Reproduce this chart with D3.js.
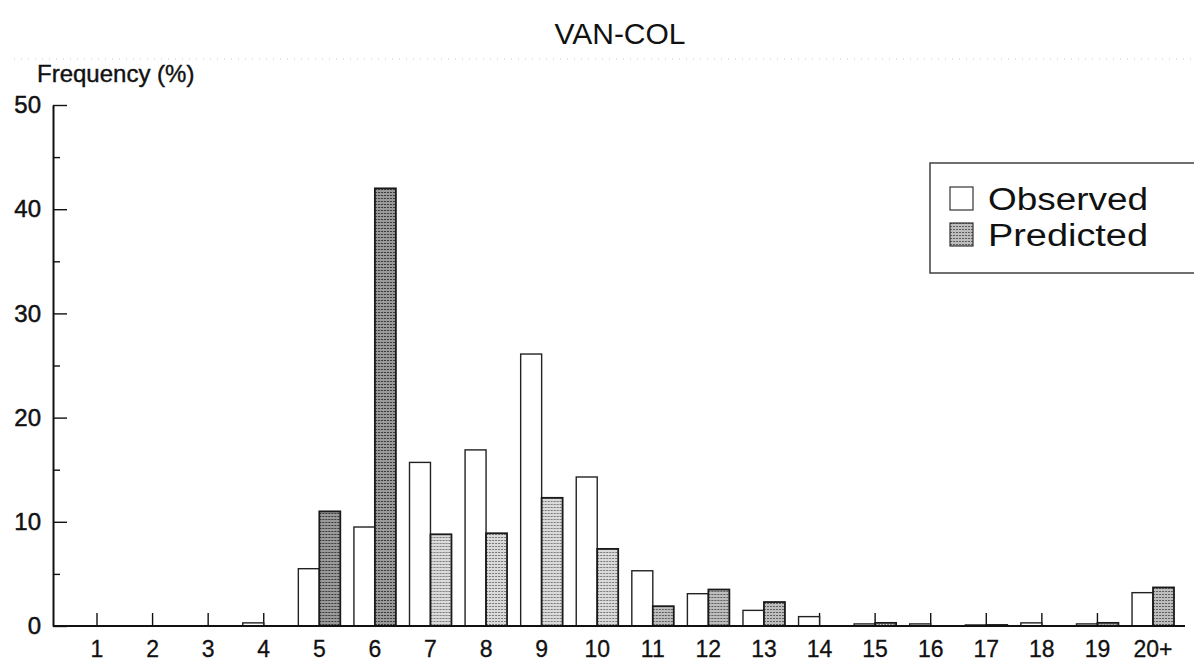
<!DOCTYPE html>
<html>
<head>
<meta charset="utf-8">
<script src="https://cdn.jsdelivr.net/npm/d3@7"></script>
<style>
  body { margin: 0; background: #fff; }
  text { font-family: "Liberation Sans", Arial, Helvetica, sans-serif; fill: #111; }
</style>
</head>
<body>
<script>
// frequency of bin (%)
var categories = ["1","2","3","4","5","6","7","8","9","10","11","12","13","14","15","16","17","18","19","20+"];
var observed  = [0, 0, 0, 0.3, 5.5, 9.5, 15.7, 16.9, 26.1, 14.3, 5.3, 3.1, 1.5, 0.9, 0.2, 0.2, 0.1, 0.3, 0.2, 3.2];
var predicted = [0, 0, 0, 0,   11.0, 42.0, 8.8, 8.9, 12.3, 7.4, 1.9, 3.5, 2.3, 0,   0.3, 0,   0.1, 0,   0.3, 3.7];
var yTicks = [0, 10, 20, 30, 40, 50];
var yMinor = [5, 15, 25, 35, 45];
var seriesNames = ["Observed", "Predicted"];

var darkBins = ["5", "6"];   // these two were printed with a darker screen
var midBins = ["11", "12", "13", "20+"];

var size = ({ width: 1194, height: 664 });
var margin = ({ top: 105, right: 14, bottom: 38, left: 53 });

var svg = d3.select("body").append("svg")
            .attr("width", size.width)
            .attr("height", size.height)
            .attr("viewBox", [0, 0, size.width, size.height]);

// stipple patterns for the predicted bars
var defs = svg.append("defs");
function stipple(id, bg, dot) {
  var p = defs.append("pattern")
              .attr("id", id)
              .attr("width", 3)
              .attr("height", 3)
              .attr("patternUnits", "userSpaceOnUse");
  p.append("rect").attr("width", 3).attr("height", 3).attr("fill", bg);
  p.append("rect").attr("width", 2).attr("height", 1).attr("fill", dot);
}
stipple("dots-dark", "#9a9a9a", "#3a3a3a");
stipple("dots-mid", "#bdbdbd", "#5e5e5e");
stipple("dots-light", "#dadada", "#7a7a7a");

function predFill(cat) {
  if (darkBins.indexOf(cat) >= 0) return "url(#dots-dark)";
  if (midBins.indexOf(cat) >= 0) return "url(#dots-mid)";
  return "url(#dots-light)";
}

var step = 55.58;
var x_scale = d3.scaleBand()
                .domain(categories)
                .range([97 - step / 2, 97 - step / 2 + step * categories.length])
                .paddingInner(0.245)
                .paddingOuter(0.1225);
var x_sub = d3.scaleBand()
              .domain(seriesNames)
              .range([0, x_scale.bandwidth()]);
var y_scale = d3.scaleLinear()
                .domain([0, 50])
                .range([size.height - margin.bottom, margin.top]);

// faint dotted scan line under the title
svg.append("line")
   .attr("x1", 14).attr("x2", size.width)
   .attr("y1", 59).attr("y2", 59)
   .attr("stroke", "#c8c8c8")
   .attr("stroke-width", 1)
   .attr("stroke-dasharray", "1,6");

// title and y label
svg.append("text")
   .attr("x", 620).attr("y", 44)
   .attr("text-anchor", "middle")
   .style("font-size", "30px")
   .text("VAN-COL");

svg.append("text")
   .attr("x", 37).attr("y", 82)
   .style("font-size", "24px")
   .attr("stroke", "#111").attr("stroke-width", 0.4)
   .text("Frequency (%)");

// bars
var rows = categories.map(function(c, i) {
  return { cat: c, obs: observed[i], pred: predicted[i] };
});

var groups = svg.selectAll("g.bin")
                .data(rows)
                .enter()
                .append("g")
                .attr("class", "bin")
                .attr("transform", (d) => "translate(" + x_scale(d.cat) + ",0)");

groups.filter((d) => d.obs > 0)
      .append("rect")
      .attr("x", x_sub("Observed"))
      .attr("y", (d) => y_scale(d.obs))
      .attr("width", x_sub.bandwidth())
      .attr("height", (d) => y_scale(0) - y_scale(d.obs))
      .attr("fill", "#fff")
      .attr("stroke", "#222")
      .attr("stroke-width", 1.4);

groups.filter((d) => d.pred > 0)
      .append("rect")
      .attr("x", x_sub("Predicted"))
      .attr("y", (d) => y_scale(d.pred))
      .attr("width", x_sub.bandwidth())
      .attr("height", (d) => y_scale(0) - y_scale(d.pred))
      .attr("fill", (d) => predFill(d.cat))
      .attr("stroke", "#1a1a1a")
      .attr("stroke-width", 1.8);

// y axis
var yAxis = svg.append("g")
               .attr("transform", "translate(" + margin.left + ",0)")
               .call(d3.axisLeft(y_scale)
                       .tickValues(yTicks)
                       .tickSizeInner(-14)
                       .tickSizeOuter(0)
                       .tickPadding(12));
yAxis.selectAll("text")
     .style("font-size", "24px")
     .attr("fill", "#111")
     .attr("stroke", "#111").attr("stroke-width", 0.5);
yAxis.selectAll("line").attr("stroke", "#111").attr("stroke-width", 1.4);
yAxis.select(".domain").attr("stroke", "#111").attr("stroke-width", 2);

svg.append("g")
   .attr("transform", "translate(" + margin.left + ",0)")
   .call(d3.axisLeft(y_scale)
           .tickValues(yMinor)
           .tickSizeInner(-7)
           .tickSizeOuter(0)
           .tickFormat(""))
   .call((g) => g.select(".domain").remove())
   .selectAll("line").attr("stroke", "#111").attr("stroke-width", 1.4);

// x axis: ticks point up at the centre of each pair
var xAxis = svg.append("g")
               .attr("transform", "translate(0," + y_scale(0) + ")")
               .call(d3.axisBottom(x_scale)
                       .tickSizeInner(-13)
                       .tickSizeOuter(0)
                       .tickPadding(15));
xAxis.select(".domain").remove();
xAxis.selectAll("text")
     .style("font-size", "23px")
     .attr("fill", "#111")
     .attr("stroke", "#111").attr("stroke-width", 0.3);
xAxis.selectAll("line").attr("stroke", "#111").attr("stroke-width", 1.4);
xAxis.lower();

svg.append("line")
   .attr("x1", margin.left).attr("x2", size.width - margin.right + 5)
   .attr("y1", y_scale(0)).attr("y2", y_scale(0))
   .attr("stroke", "#111")
   .attr("stroke-width", 2.2);

// legend
var legend = svg.append("g").attr("transform", "translate(930,163)");
legend.append("rect")
      .attr("width", 270).attr("height", 110)
      .attr("fill", "#fff")
      .attr("stroke", "#333")
      .attr("stroke-width", 1.4);

seriesNames.forEach(function(name, i) {
  var row = legend.append("g").attr("transform", "translate(20," + (24 + i * 36) + ")");
  row.append("rect")
     .attr("width", 23).attr("height", 23)
     .attr("fill", i === 0 ? "#fff" : "url(#dots-mid)")
     .attr("stroke", "#333")
     .attr("stroke-width", 1.2);
  row.append("text")
     .attr("x", 38).attr("y", 23)
     .style("font-size", "31px")
     .attr("textLength", 160)
     .attr("lengthAdjust", "spacingAndGlyphs")
     .text(name);
});
</script>
</body>
</html>
